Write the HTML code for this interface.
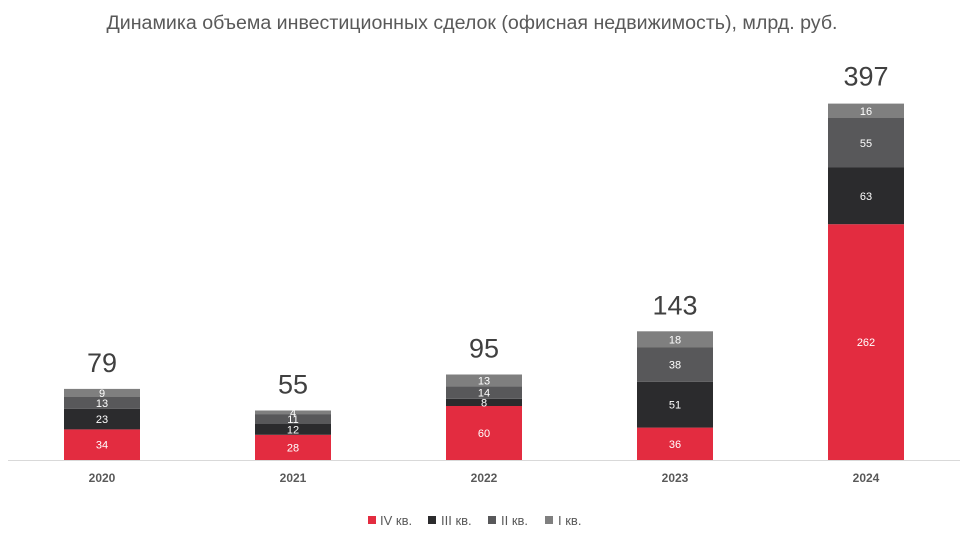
<!DOCTYPE html>
<html><head><meta charset="utf-8"><style>
html,body{margin:0;padding:0;background:#fff;}
svg{display:block;font-family:"Liberation Sans","DejaVu Sans",sans-serif;}
</style></head><body>
<svg id="c" width="979" height="541" xmlns="http://www.w3.org/2000/svg">
<text x="472" y="29" text-anchor="middle" font-size="19.6" fill="#595959" textLength="731" lengthAdjust="spacingAndGlyphs">Динамика объема инвестиционных сделок (офисная недвижимость), млрд. руб.</text>
<line x1="8" y1="460.5" x2="960" y2="460.5" stroke="#d9d9d9" stroke-width="1"/>
<g id="bars"></g>
<g font-size="13" fill="#595959">
<rect x="368" y="516" width="8" height="8" fill="#e32c40"/><text x="380" y="525">IV кв.</text>
<rect x="428" y="516" width="8" height="8" fill="#2b2b2d"/><text x="441" y="525">III кв.</text>
<rect x="488" y="516" width="8" height="8" fill="#58585a"/><text x="501" y="525">II кв.</text>
<rect x="545" y="516" width="8" height="8" fill="#7f7f7f"/><text x="558" y="525">I кв.</text>
</g>
</svg>
<script>
var data=[["2020",[34,23,13,9],79],["2021",[28,12,11,4],55],["2022",[60,8,14,13],95],["2023",[36,51,38,18],143],["2024",[262,63,55,16],397]];
var cols=["#e32c40","#2b2b2d","#58585a","#7f7f7f"];
var g=document.getElementById("bars"),s="";
var k=0.9;
data.forEach(function(d,i){
 var x=64+i*191,y=460;
 d[1].forEach(function(v,j){
  var h=v*k;y-=h;
  s+='<rect x="'+x+'" y="'+y.toFixed(2)+'" width="76" height="'+h.toFixed(2)+'" fill="'+cols[j]+'"/>';
  s+='<text x="'+(x+38)+'" y="'+(y+h/2+4).toFixed(2)+'" text-anchor="middle" font-size="11" fill="#fff">'+v+'</text>';
 });
 var top=460-d[2]*k;
 s+='<text x="'+(x+38)+'" y="'+(top-17).toFixed(1)+'" text-anchor="middle" font-size="27" fill="#404040">'+d[2]+'</text>';
 s+='<text x="'+(x+38)+'" y="482" text-anchor="middle" font-size="12" font-weight="bold" fill="#595959">'+d[0]+'</text>';
});
g.innerHTML=s;
</script>
</body></html>
